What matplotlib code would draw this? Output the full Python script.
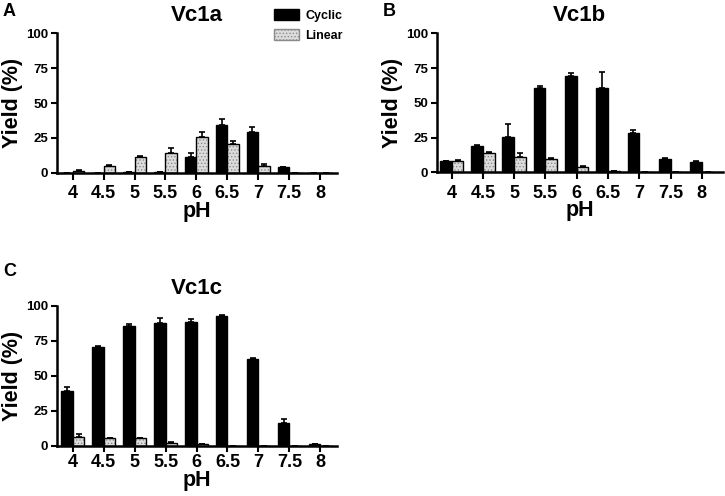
import numpy as np
import matplotlib.pyplot as plt
from matplotlib.patches import Patch

plt.rcParams['font.family'] = ['Liberation Sans', 'DejaVu Sans']
plt.rcParams['font.weight'] = 'bold'
plt.rcParams['hatch.linewidth'] = 0.6

# valores
ph = ['4', '4.5', '5', '5.5', '6', '6.5', '7', '7.5', '8']

a_cyc = [0, 0, 0.3, 0.5, 11, 34, 29, 3.8, 0]
a_cyc_err = [0, 0, 0, 0, 3, 4.5, 4, 0.6, 0]
a_lin = [1.4, 4.5, 11, 14.4, 25.8, 20.3, 5, 0, 0]
a_lin_err = [0.3, 1, 1.2, 3.5, 3.6, 2.4, 1.2, 0, 0]

b_cyc = [8, 19, 25.5, 60.4, 69.3, 60.4, 28, 9.6, 7.4]
b_cyc_err = [0.3, 0.3, 9.6, 1.7, 1.9, 12, 2.5, 0.5, 0.4]
b_lin = [8.2, 13.9, 11.3, 9.6, 3.6, 1, 0, 0, 0]
b_lin_err = [0.4, 1, 2.8, 0.4, 0.7, 0.2, 0, 0, 0]

c_cyc = [39.4, 70.6, 85.7, 87.8, 88.5, 92.8, 61.8, 16.5, 1.2]
c_cyc_err = [2.4, 1, 1.7, 3.4, 2, 0.5, 0.8, 2.8, 0.2]
c_lin = [6.2, 5.5, 5.5, 2.1, 1.2, 0, 0, 0, 0]
c_lin_err = [1.9, 0.3, 0.3, 0.3, 0.2, 0, 0, 0, 0]

W, H = 725, 496
fig = plt.figure(figsize=(W / 100, H / 100), dpi=100)

w = 0.375
lin_face = '#dcdcdc'
hatch_col = '#8a8a8a'


def panel(rect, cyc, cyc_err, lin, lin_err, title, xlim, tlen, xpad, lpad):
    ax = fig.add_axes(rect)
    x = np.arange(len(ph))
    ax.bar(x - w / 2, cyc, w, color='black', edgecolor='black', linewidth=1)
    ax.errorbar(x - w / 2, cyc, yerr=[np.zeros(len(cyc)), cyc_err], fmt='none',
                ecolor='black', elinewidth=1.2, capsize=2.5, capthick=1.2)
    # barras lineales: relleno punteado + borde negro
    ax.bar(x + w / 2, lin, w, color=lin_face, edgecolor=hatch_col, hatch='.....', linewidth=0)
    ax.bar(x + w / 2, lin, w, fill=False, edgecolor='black', linewidth=1)
    ax.errorbar(x + w / 2, lin, yerr=[np.zeros(len(lin)), lin_err], fmt='none',
                ecolor='black', elinewidth=1.2, capsize=2.5, capthick=1.2)
    ax.set_xlim(*xlim)
    ax.set_ylim(0, 100)
    ax.set_yticks([0, 25, 50, 75, 100])
    ax.set_xticks(x)
    ax.set_xticklabels(ph)
    for s in ['top', 'right']:
        ax.spines[s].set_visible(False)
    for s in ['left', 'bottom']:
        ax.spines[s].set_linewidth(1.8)
    ax.tick_params(axis='y', labelsize=9.5, width=1.5, length=4, pad=2)
    ax.tick_params(axis='x', labelsize=13, width=1.5, length=tlen, pad=xpad)
    for t in ax.get_xticklabels() + ax.get_yticklabels():
        t.set_fontweight('bold')
    ax.set_ylabel('Yield (%)', fontsize=15.5, fontweight='bold', labelpad=2)
    ax.set_xlabel('pH', fontsize=15.5, fontweight='bold', labelpad=lpad)
    ax.set_title(title, fontsize=16, fontweight='bold', pad=9)
    return ax


pa = panel([56.7 / W, 1 - 172.7 / H, 280 / W, 139.4 / H], a_cyc, a_cyc_err, a_lin, a_lin_err,
           'Vc1a', (-0.52, 8.54), 5, 4, -1)
pb = panel([436.7 / W, 1 - 172.3 / H, 286 / W, 139 / H], b_cyc, b_cyc_err, b_lin, b_lin_err,
           'Vc1b', (-0.48, 8.67), 5, 4, -1)
pc = panel([56.7 / W, 1 - 445.7 / H, 280 / W, 139.7 / H], c_cyc, c_cyc_err, c_lin, c_lin_err,
           'Vc1c', (-0.52, 8.53), 4, 2, -0.5)

fig.text(3 / W, 1 - 12 / H, 'A', fontsize=13, fontweight='bold', va='center')
fig.text(383 / W, 1 - 12 / H, 'B', fontsize=13, fontweight='bold', va='center')
fig.text(3 / W, 1 - 272 / H, 'C', fontsize=13, fontweight='bold', va='center')

handles = [Patch(facecolor='black', edgecolor='black', label='Cyclic'),
           Patch(facecolor=lin_face, edgecolor=hatch_col, hatch='.....', label='Linear')]
leg = fig.legend(handles=handles, loc='upper left', bbox_to_anchor=(263 / W, 1 + 2 / H),
                 frameon=False, fontsize=9, handlelength=2.0, handleheight=1.0,
                 handletextpad=0.5, labelspacing=0.55)
for t in leg.get_texts():
    t.set_fontweight('bold')

fig.savefig('out.png', dpi=100)
